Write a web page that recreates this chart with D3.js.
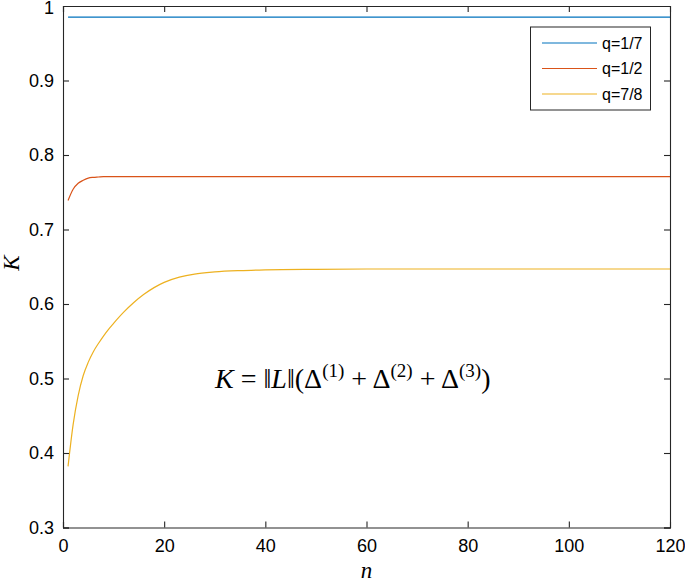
<!DOCTYPE html>
<html><head><meta charset="utf-8">
<script src="https://cdn.jsdelivr.net/npm/d3@7"></script>
<style>body{margin:0;background:#fff}svg{display:block}</style>
</head><body>
<svg id="c" width="685" height="585"></svg>
<script>
const seriesNames = ["q=1/7", "q=1/2", "q=7/8"];
const seriesColors = ["#0072BD", "#D95319", "#EDB120"];
const nBlue = [1, 10, 20, 40, 60, 80, 100, 120];
const kBlue = [0.985, 0.985, 0.985, 0.985, 0.985, 0.985, 0.985, 0.985];
const nRed = [1, 2, 3, 4, 5, 6, 7, 8, 10, 15, 20, 40, 60, 80, 100, 120];
const kRed = [0.739, 0.754, 0.762, 0.766, 0.769, 0.770, 0.7705, 0.771, 0.771, 0.771, 0.771, 0.771, 0.771, 0.771, 0.771, 0.771];
const nYellow = [1, 2, 3, 4, 5, 6, 7, 8, 9, 10, 12, 14, 16, 18, 20, 23, 26, 30, 35, 40, 50, 60, 80, 100, 120];
const kYellow = [0.382, 0.438, 0.477, 0.504, 0.522, 0.536, 0.547, 0.557, 0.566, 0.574, 0.589, 0.602, 0.613, 0.622, 0.629, 0.636, 0.6402, 0.643, 0.6448, 0.6458, 0.6466, 0.647, 0.647, 0.647, 0.647];
const xTicks = [0, 20, 40, 60, 80, 100, 120];
const yTicks = [0.3, 0.4, 0.5, 0.6, 0.7, 0.8, 0.9, 1];

const svg = d3.select("#c");
const L = 63, R = 670, T = 6, B = 527.5;
const x = d3.scaleLinear().domain([0, 120]).range([L, R]);
const y = d3.scaleLinear().domain([0.3, 1]).range([B, T]);
const axisColor = "#262626";
const tickFont = "'Liberation Sans', Arial, sans-serif";

const series = [
  {n: nBlue, k: kBlue},
  {n: nRed, k: kRed},
  {n: nYellow, k: kYellow}
];

const g = svg.append("g");
const line = d3.line().x(d => x(d[0])).y(d => y(d[1])).curve(d3.curveMonotoneX);
series.forEach((s, i) => {
  g.append("path")
    .datum(s.n.map((v, j) => [v, s.k[j]]))
    .attr("d", line)
    .attr("fill", "none")
    .attr("stroke", seriesColors[i])
    .attr("stroke-width", 1.2);
});

// axes
const ax = svg.append("g").attr("transform", `translate(0,${B})`)
  .call(d3.axisBottom(x).tickValues(xTicks).tickSize(-6).tickPadding(12).tickFormat(d3.format("d")));
const axTop = svg.append("g").attr("transform", `translate(0,${T})`)
  .call(d3.axisTop(x).tickValues(xTicks).tickSize(-6).tickFormat(""));
const ay = svg.append("g").attr("transform", `translate(${L},0)`)
  .call(d3.axisLeft(y).tickValues(yTicks).tickSize(-6).tickPadding(9).tickFormat(d => d3.format("~g")(d)));
const ayR = svg.append("g").attr("transform", `translate(${R},0)`)
  .call(d3.axisRight(y).tickValues(yTicks).tickSize(-6).tickFormat(""));
[ax, axTop, ay, ayR].forEach(a => {
  a.selectAll(".domain").attr("stroke", axisColor).attr("stroke-width", 1.1);
  a.selectAll(".tick line").attr("stroke", axisColor).attr("stroke-width", 1.1);
  a.selectAll("text").attr("fill", "#000").style("font-family", tickFont).style("font-size", "18px");
});
ax.selectAll(".tick:first-child line, .tick:last-child line").remove();
axTop.selectAll(".tick:first-child line, .tick:last-child line").remove();
ay.selectAll(".tick:first-child line, .tick:last-child line").remove();
ayR.selectAll(".tick:first-child line, .tick:last-child line").remove();
ay.selectAll(".tick:last-child text").attr("dy", "0.4em");

// axis labels
svg.append("text").attr("x", (L + R) / 2).attr("y", 578).attr("text-anchor", "middle")
  .style("font-family", "'Liberation Serif',serif").style("font-style", "italic").style("font-size", "23px").text("n");
svg.append("text").attr("transform", `translate(19,263) rotate(-90)`).attr("text-anchor", "middle")
  .style("font-family", "'Liberation Serif',serif").style("font-style", "italic").style("font-size", "23px").text("K");

// equation
const eq = svg.append("text").attr("x", 215).attr("y", 388)
  .style("font-family", "'Liberation Serif',serif").style("font-size", "28px").attr("fill", "#000");
eq.append("tspan").style("font-style", "italic").text("K");
eq.append("tspan").text(" = \u2016");
eq.append("tspan").style("font-style", "italic").text("L");
eq.append("tspan").text("\u2016(\u0394");
eq.append("tspan").attr("dy", -11).style("font-size", "19px").text("(1)");
eq.append("tspan").attr("dy", 11).text(" + \u0394");
eq.append("tspan").attr("dy", -11).style("font-size", "19px").text("(2)");
eq.append("tspan").attr("dy", 11).text(" + \u0394");
eq.append("tspan").attr("dy", -11).style("font-size", "19px").text("(3)");
eq.append("tspan").attr("dy", 11).text(")");

// legend
const lg = svg.append("g");
lg.append("rect").attr("x", 530.5).attr("y", 27).attr("width", 120).attr("height", 83)
  .attr("fill", "#fff").attr("stroke", axisColor).attr("stroke-width", 1);
seriesNames.forEach((name, i) => {
  const yy = 43 + i * 25.5;
  lg.append("line").attr("x1", 542).attr("x2", 597).attr("y1", yy).attr("y2", yy)
    .attr("stroke", seriesColors[i]).attr("stroke-width", 1.2);
  lg.append("text").attr("x", 602).attr("y", yy + 5.5)
    .style("font-family", tickFont).style("font-size", "16px").text(name);
});
</script>
</body></html>
